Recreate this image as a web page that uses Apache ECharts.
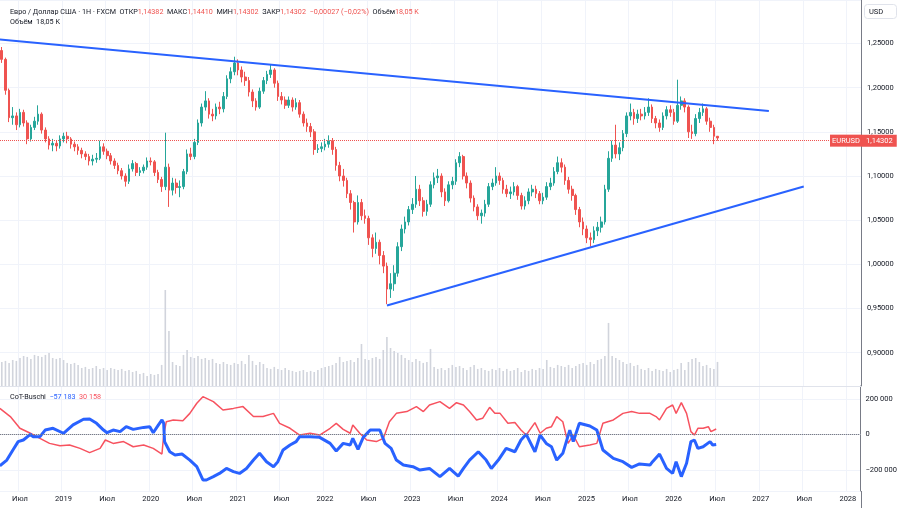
<!DOCTYPE html>
<html>
<head>
<meta charset="utf-8">
<script src="https://cdn.jsdelivr.net/npm/echarts@6/dist/echarts.min.js"></script>
<style>
  html, body { margin: 0; padding: 0; background: #fff; }
  #chart { width: 900px; height: 508px; }
</style>
</head>
<body>
<div id="chart"></div>
<script>
// half-month candles, Apr 2018 .. Jul 2026
const firstOpen = 1.242;
const closes = [
  1.232,1.197,1.166,1.168,1.158,1.172,1.160,1.142,1.155,1.162,
  1.170,1.152,1.142,1.135,1.137,1.134,1.142,1.145,1.142,1.136,
  1.133,1.129,1.125,1.122,1.117,1.119,1.120,1.133,1.128,1.123,
  1.117,1.112,1.106,1.100,1.094,1.108,1.114,1.104,1.106,1.110,
  1.117,1.116,1.104,1.096,1.088,1.110,1.084,1.092,1.087,1.088,
  1.105,1.125,1.122,1.138,1.160,1.178,1.185,1.170,1.168,1.178,
  1.176,1.190,1.210,1.218,1.228,1.220,1.212,1.208,1.195,1.185,
  1.178,1.196,1.208,1.215,1.220,1.205,1.190,1.186,1.180,1.186,
  1.178,1.183,1.170,1.160,1.156,1.150,1.130,1.131,1.133,1.136,
  1.140,1.130,1.112,1.100,1.095,1.080,1.070,1.048,1.070,1.055,
  1.052,1.030,1.018,1.025,1.010,0.998,0.972,0.978,0.990,1.020,
  1.040,1.048,1.062,1.068,1.085,1.072,1.060,1.068,1.090,1.098,
  1.100,1.082,1.072,1.090,1.094,1.115,1.122,1.100,1.092,1.075,
  1.065,1.055,1.058,1.068,1.088,1.092,1.100,1.095,1.085,1.080,
  1.082,1.088,1.078,1.066,1.072,1.082,1.085,1.080,1.072,1.076,
  1.088,1.092,1.105,1.115,1.110,1.095,1.085,1.078,1.062,1.048,
  1.040,1.030,1.028,1.038,1.042,1.048,1.085,1.120,1.135,1.125,
  1.132,1.148,1.168,1.172,1.165,1.170,1.168,1.172,1.178,1.165,
  1.160,1.155,1.168,1.175,1.172,1.162,1.180,1.185,1.178,1.150,
  1.148,1.165,1.172,1.176,1.162,1.155,1.145,1.14302
];
const highs = [
  1.246,1.234,1.199,1.178,1.172,1.176,1.175,1.163,1.158,1.167,
  1.180,1.172,1.155,1.145,1.142,1.140,1.146,1.149,1.150,1.144,
  1.139,1.136,1.132,1.128,1.125,1.124,1.126,1.140,1.137,1.131,
  1.126,1.120,1.115,1.109,1.103,1.113,1.118,1.116,1.110,1.113,
  1.121,1.121,1.118,1.107,1.099,1.149,1.114,1.098,1.097,1.095,
  1.108,1.130,1.132,1.142,1.164,1.182,1.196,1.188,1.176,1.182,
  1.184,1.195,1.214,1.223,1.235,1.232,1.224,1.218,1.212,1.198,
  1.188,1.200,1.212,1.219,1.226,1.222,1.208,1.195,1.190,1.190,
  1.189,1.188,1.186,1.173,1.165,1.160,1.153,1.136,1.138,1.142,
  1.146,1.143,1.133,1.116,1.108,1.098,1.084,1.072,1.078,1.074,
  1.062,1.055,1.034,1.036,1.028,1.015,1.002,0.990,0.999,1.025,
  1.045,1.054,1.066,1.075,1.100,1.090,1.076,1.073,1.094,1.104,
  1.108,1.103,1.086,1.094,1.099,1.119,1.127,1.124,1.104,1.095,
  1.078,1.068,1.062,1.073,1.092,1.097,1.110,1.104,1.098,1.090,
  1.088,1.093,1.090,1.081,1.077,1.086,1.090,1.089,1.083,1.081,
  1.093,1.098,1.110,1.122,1.120,1.113,1.099,1.089,1.080,1.065,
  1.053,1.044,1.036,1.043,1.048,1.054,1.090,1.128,1.140,1.158,
  1.138,1.152,1.172,1.182,1.176,1.175,1.176,1.178,1.188,1.181,
  1.168,1.164,1.172,1.179,1.180,1.176,1.209,1.190,1.188,1.180,
  1.158,1.170,1.177,1.182,1.178,1.166,1.158,1.14410
];
const lows = [
  1.228,1.192,1.161,1.158,1.152,1.155,1.156,1.136,1.139,1.152,
  1.158,1.148,1.138,1.130,1.128,1.128,1.131,1.138,1.137,1.131,
  1.128,1.124,1.120,1.118,1.112,1.112,1.115,1.118,1.124,1.119,
  1.113,1.108,1.102,1.096,1.088,1.091,1.105,1.100,1.100,1.103,
  1.107,1.112,1.100,1.092,1.082,1.084,1.065,1.078,1.080,1.076,
  1.085,1.102,1.118,1.119,1.135,1.156,1.174,1.165,1.162,1.164,
  1.170,1.172,1.187,1.205,1.214,1.214,1.206,1.202,1.190,1.178,
  1.174,1.176,1.193,1.204,1.211,1.200,1.185,1.181,1.176,1.177,
  1.173,1.175,1.166,1.156,1.150,1.144,1.124,1.126,1.127,1.129,
  1.132,1.124,1.106,1.094,1.088,1.075,1.062,1.036,1.045,1.050,
  1.046,1.022,1.008,1.012,1.000,0.990,0.955,0.962,0.970,0.986,
  1.015,1.035,1.044,1.057,1.064,1.066,1.054,1.055,1.065,1.086,
  1.092,1.076,1.066,1.070,1.085,1.090,1.110,1.096,1.086,1.070,
  1.060,1.050,1.046,1.054,1.065,1.084,1.089,1.090,1.080,1.076,
  1.074,1.078,1.073,1.062,1.062,1.068,1.077,1.075,1.068,1.068,
  1.073,1.084,1.089,1.102,1.104,1.090,1.080,1.072,1.056,1.042,
  1.033,1.024,1.020,1.024,1.032,1.036,1.045,1.082,1.116,1.120,
  1.118,1.128,1.144,1.163,1.158,1.160,1.163,1.164,1.168,1.160,
  1.154,1.150,1.152,1.164,1.167,1.158,1.160,1.175,1.172,1.143,
  1.142,1.145,1.160,1.168,1.158,1.150,1.136,1.140
];
// volume, K
const volumes = [
  18.0,18.8,17.3,19.5,18.8,21.0,22.5,21.8,20.3,23.3,
  22.5,21.8,23.3,24.8,21.0,20.3,21.0,19.5,17.3,16.5,
  17.3,15.8,13.5,14.3,12.8,13.5,15.0,12.8,13.5,12.0,
  13.5,12.8,12.0,12.8,11.3,12.0,10.5,11.3,9.0,9.8,
  7.5,9.0,8.3,9.0,15.8,72.0,41.3,18.0,15.8,15.0,
  23.3,27.0,21.8,21.0,22.5,20.3,21.0,19.5,20.3,17.3,
  16.5,18.0,16.5,15.8,17.3,16.5,18.8,16.5,23.3,18.8,
  15.8,18.0,16.5,13.5,12.8,14.3,12.8,12.0,13.5,12.0,
  11.3,10.5,11.3,12.0,10.5,11.3,10.5,12.0,13.5,14.3,
  15.0,15.8,17.3,21.8,18.0,18.8,19.5,18.0,21.0,31.5,
  20.3,19.5,21.0,21.8,20.3,27.0,36.8,28.5,26.3,24.8,
  23.3,21.0,19.5,18.0,20.3,18.8,17.3,18.0,27.8,14.3,
  12.8,13.5,12.0,13.5,15.8,14.3,15.0,13.5,12.0,14.3,
  15.8,12.8,13.5,12.0,11.3,12.8,12.0,13.5,11.3,12.8,
  11.3,12.0,13.5,10.5,12.0,11.3,12.8,12.0,13.5,12.8,
  19.5,14.3,13.5,15.8,15.0,14.3,15.8,13.5,15.0,16.5,
  17.3,15.8,18.0,16.5,19.5,20.3,22.5,47.3,22.5,21.0,
  19.5,18.0,16.5,17.3,15.0,15.8,12.8,12.0,13.5,11.3,
  12.8,12.0,11.3,12.8,10.5,12.0,12.8,17.3,12.0,18.0,
  20.3,21.0,18.0,15.0,15.8,13.5,12.8,18.05
];

// time axis: one category per half month, labels every 6 months
const timeLabels = ['Июл','2019','Июл','2020','Июл','2021','Июл','2022','Июл','2023',
                    'Июл','2024','Июл','2025','Июл','2026','Июл','2027','Июл','2028'];
const categoryCount = 237;
const labelStart = 5;
const labelStep = 12;
const yearMin = 2018 + 7 / 24;
const yearMax = 2028 + 4 / 24;

// trend lines [year, price]
const upperTrend = [[2018.29, 1.2545], [2027.11, 1.1736]];
const lowerTrend = [[2022.73, 0.9534], [2027.51, 1.0881]];

// CoT (thousands)
const blueX = [2018.29,2018.37,2018.44,2018.50,2018.56,2018.64,2018.67,2018.75,2018.81,2018.90,
  2019.02,2019.13,2019.25,2019.32,2019.40,2019.48,2019.52,2019.59,2019.67,2019.74,2019.82,2019.94,
  2020.01,2020.05,2020.11,2020.15,2020.17,2020.18,2020.24,2020.30,2020.38,2020.47,2020.55,2020.62,2020.66,2020.74,2020.81,2020.89,2020.97,
  2021.04,2021.12,2021.20,2021.27,2021.35,2021.43,2021.48,2021.54,2021.62,2021.69,2021.73,2021.85,2021.96,
  2022.08,2022.15,2022.23,2022.31,2022.34,2022.40,2022.46,2022.54,2022.65,2022.71,2022.78,2022.84,2022.92,
  2023.03,2023.11,2023.22,2023.34,2023.45,2023.55,2023.61,2023.68,2023.78,2023.87,2023.93,
  2024.01,2024.10,2024.20,2024.27,2024.33,2024.43,2024.49,2024.56,2024.62,2024.68,2024.75,2024.83,2024.87,2024.94,
  2025.06,2025.14,2025.21,2025.33,2025.44,2025.54,2025.63,2025.75,2025.78,2025.86,2025.94,
  2026.01,2026.05,2026.11,2026.17,2026.22,2026.26,2026.30,2026.36,2026.44,2026.47,2026.51];
const blueVal = [-178,-145,-88,-41,-32,0,-13,-13,24,34,
  6,53,85,86,62,24,9,24,15,43,28,39,
  43,9,53,81,62,-41,-98,-116,-111,-145,-182,-257,-257,-238,-220,-192,-210,
  -220,-192,-145,-107,-154,-182,-154,-88,-60,-41,-13,-13,-17,
  -51,-94,-51,-60,-23,-85,-17,24,24,-51,-79,-145,-173,
  -182,-201,-192,-238,-192,-235,-192,-145,-98,-145,-192,
  -145,-79,-98,-32,0,-98,-4,-51,-70,-145,-107,24,-41,62,
  47,24,-88,-135,-154,-186,-167,-173,-154,-111,-192,
  -220,-154,-238,-163,-41,-32,-79,-70,-41,-60,-57.183];
const redX = [2018.29,2018.41,2018.52,2018.64,2018.75,2018.86,2018.98,
  2019.09,2019.21,2019.32,2019.44,2019.50,2019.59,2019.71,2019.82,2019.94,
  2020.05,2020.15,2020.17,2020.20,2020.28,2020.39,2020.47,2020.55,2020.62,2020.74,2020.85,2020.97,
  2021.08,2021.20,2021.31,2021.43,2021.50,2021.62,2021.73,2021.85,2021.96,
  2022.08,2022.15,2022.23,2022.31,2022.34,2022.42,2022.50,2022.61,2022.69,2022.76,2022.84,2022.96,
  2023.07,2023.15,2023.22,2023.34,2023.45,2023.53,2023.61,2023.68,2023.76,2023.83,2023.91,2023.97,
  2024.03,2024.12,2024.20,2024.27,2024.33,2024.43,2024.49,2024.56,2024.62,2024.68,2024.75,2024.81,2024.87,2024.94,
  2025.06,2025.14,2025.21,2025.33,2025.44,2025.54,2025.63,2025.75,2025.82,2025.86,2025.94,
  2026.01,2026.05,2026.11,2026.17,2026.22,2026.26,2026.30,2026.36,2026.42,2026.45,2026.51];
const redVal = [146,100,34,6,-23,-51,-64,
  -60,-79,-103,-79,-32,-51,-41,-70,-60,
  -79,-111,-4,71,81,77,118,175,212,184,137,146,
  156,100,100,118,62,34,-4,6,-4,
  34,62,28,6,53,6,-32,-41,-23,71,118,128,
  156,128,165,184,146,178,165,128,81,90,152,118,
  118,62,66,24,-4,66,6,34,43,100,71,-51,-4,-70,
  -60,-51,62,81,118,128,118,118,100,81,146,
  165,118,178,118,15,-4,34,34,43,15,30.158];

const lastPrice = 1.14302;
const upColor = '#26a69a';
const downColor = '#ef5350';
const blue = '#2962ff';
const gridColor = '#f0f3fa';
const textColor = '#131722';
const font = 'Roboto, "Liberation Sans", sans-serif';
const axisFont = 7.5;
const titleFont = 7.2;

const isLabelIdx = i => i >= labelStart && (i - labelStart) % labelStep === 0;
const categories = Array.from({length: categoryCount}, (_, i) =>
  isLabelIdx(i) ? timeLabels[(i - labelStart) / labelStep] : '');
const candles = closes.map((c, i) => [i === 0 ? firstOpen : closes[i - 1], c, lows[i], highs[i]]);
const fmtPrice = v => v.toFixed(5).replace('.', ',');
const fmtCot = v => v === 0 ? '0' :
  (v < 0 ? '\u2212' : '') + String(Math.abs(Math.round(v))).replace(/\B(?=(\d{3})+(?!\d))/g, ' ');

const chart = echarts.init(document.getElementById('chart'));
chart.setOption({
  animation: false,
  backgroundColor: '#ffffff',
  textStyle: { fontFamily: font },
  title: [
    {
      left: 5, top: 4,
      text: '{n|Евро / Доллар США · 1Н · FXCM}  {n|ОТКР}{r|1,14382}  {n|МАКС}{r|1,14410}  {n|МИН}{r|1,14302}  {n|ЗАКР}{r|1,14302}  {r|\u22120,00027 (\u22120,02%)}  {n|Объём}{r|18,05 K}',
      textStyle: { fontSize: titleFont, fontWeight: 'normal', rich: {
        n: { color: textColor, fontSize: titleFont, fontFamily: font },
        r: { color: downColor, fontSize: titleFont, fontFamily: font }
      } }
    },
    {
      left: 5, top: 14,
      text: '{n|Объём}  {n|18,05 K}',
      textStyle: { fontSize: titleFont, fontWeight: 'normal', rich: {
        n: { color: textColor, fontSize: titleFont, fontFamily: font }
      } }
    },
    {
      left: 5, top: 389,
      text: '{n|CoT-Buschi}  {b|\u221257 183}  {r|30 158}',
      textStyle: { fontSize: titleFont, fontWeight: 'normal', rich: {
        n: { color: textColor, fontSize: titleFont, fontFamily: font },
        b: { color: blue, fontSize: titleFont, fontFamily: font },
        r: { color: '#f7525f', fontSize: titleFont, fontFamily: font }
      } }
    }
  ],
  graphic: [
    { type: 'rect', shape: { x: 864.5, y: 4.5, width: 32, height: 14, r: 3 },
      style: { fill: '#fff', stroke: '#e0e3eb', lineWidth: 1 } },
    { type: 'text', x: 876, y: 12, style: { text: 'USD', fill: textColor, font: axisFont + 'px ' + font, align: 'center', verticalAlign: 'middle' } },
    { type: 'line', shape: { x1: 861.5, y1: 491, x2: 861.5, y2: 508 }, style: { stroke: '#787b86', lineWidth: 1 } }
  ],
  grid: [
    { left: 0, right: 39, top: 0, height: 386 },
    { left: 0, right: 39, top: 386, height: 105 }
  ],
  xAxis: [
    { type: 'category', gridIndex: 0, data: categories, boundaryGap: true,
      axisLabel: { show: false }, axisTick: { show: false },
      axisLine: { show: true, lineStyle: { color: '#e0e3eb' } },
      splitLine: { show: true, interval: isLabelIdx, lineStyle: { color: gridColor } } },
    { type: 'value', gridIndex: 0, min: yearMin, max: yearMax, show: false },
    { type: 'category', gridIndex: 1, data: categories, boundaryGap: true,
      axisLabel: { interval: isLabelIdx, color: textColor, fontSize: axisFont, margin: 4, fontFamily: font },
      axisTick: { show: false },
      axisLine: { show: true, lineStyle: { color: '#d1d4dc' } },
      splitLine: { show: true, interval: isLabelIdx, lineStyle: { color: gridColor } } },
    { type: 'value', gridIndex: 1, min: yearMin, max: yearMax, show: false }
  ],
  yAxis: [
    { type: 'value', gridIndex: 0, position: 'right', min: 0.8623, max: 1.2992, splitNumber: 8,
      axisLine: { show: true, lineStyle: { color: '#787b86' } }, axisTick: { show: false },
      axisLabel: { formatter: fmtPrice, color: textColor, fontSize: axisFont, margin: 6, fontFamily: font,
                   showMinLabel: false, showMaxLabel: false },
      splitLine: { show: true, lineStyle: { color: gridColor } } },
    { type: 'value', gridIndex: 0, min: 0, max: 289.5, show: false },
    { type: 'value', gridIndex: 1, position: 'right', min: -319000, max: 272000, splitNumber: 3,
      axisLine: { show: true, lineStyle: { color: '#787b86' } }, axisTick: { show: false },
      axisLabel: { formatter: fmtCot, color: textColor, fontSize: axisFont, margin: 5, fontFamily: font,
                   showMinLabel: false, showMaxLabel: false },
      splitLine: { show: true, lineStyle: { color: gridColor } } }
  ],
  series: [
    { name: 'Объём', type: 'bar', xAxisIndex: 0, yAxisIndex: 1, data: volumes,
      barWidth: 1.6, itemStyle: { color: '#d1d4dc' }, silent: true, z: 1 },
    { name: 'EURUSD', type: 'candlestick', xAxisIndex: 0, yAxisIndex: 0, data: candles,
      barWidth: '60%', z: 3,
      itemStyle: { color: upColor, color0: downColor, borderColor: upColor, borderColor0: downColor, borderWidth: 1 },
      markLine: {
        symbol: 'none', silent: true,
        data: [{ yAxis: lastPrice }],
        lineStyle: { type: 'dotted', color: downColor, width: 1 },
        label: {
          show: true, position: 'end', distance: -31,
          formatter: '{a|EURUSD}{b|' + fmtPrice(lastPrice) + '}',
          rich: {
            a: { backgroundColor: downColor, color: '#fff', fontSize: axisFont, padding: [2, 2, 2, 2], fontFamily: font },
            b: { backgroundColor: downColor, color: '#fff', fontSize: axisFont, padding: [2, 4, 2, 4], fontFamily: font }
          }
        }
      } },
    { type: 'line', xAxisIndex: 1, yAxisIndex: 0, data: upperTrend, symbol: 'none', silent: true, z: 4,
      lineStyle: { color: blue, width: 2 } },
    { type: 'line', xAxisIndex: 1, yAxisIndex: 0, data: lowerTrend, symbol: 'none', silent: true, z: 4,
      lineStyle: { color: blue, width: 2 } },
    { name: 'CoT blue', type: 'line', xAxisIndex: 3, yAxisIndex: 2,
      data: blueX.map((x, i) => [x, blueVal[i] * 1000]), symbol: 'none', z: 4,
      lineStyle: { color: blue, width: 3 },
      markLine: { symbol: 'none', silent: true, data: [{ yAxis: 0 }], label: { show: false },
                  lineStyle: { type: 'dotted', color: '#787b86', width: 1 } } },
    { name: 'CoT red', type: 'line', xAxisIndex: 3, yAxisIndex: 2,
      data: redX.map((x, i) => [x, redVal[i] * 1000]), symbol: 'none', z: 3,
      lineStyle: { color: '#f7525f', width: 1.5 } }
  ]
});
</script>
</body>
</html>
